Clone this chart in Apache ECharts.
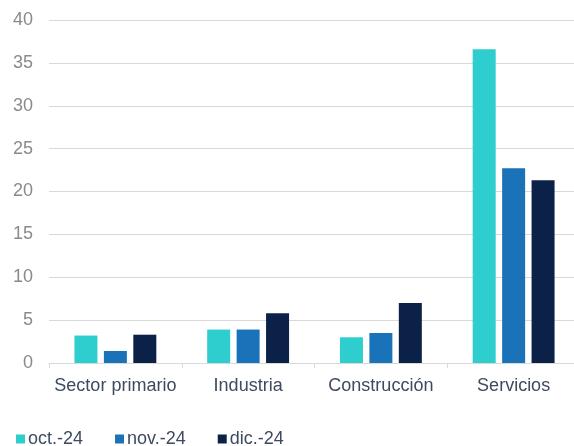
<!DOCTYPE html>
<html>
<head>
<meta charset="utf-8">
<script src="https://cdn.jsdelivr.net/npm/echarts@6/dist/echarts.min.js"></script>
<style>
  html, body { margin: 0; padding: 0; background: #fff; }
  #chart { width: 574px; height: 446px; }
</style>
</head>
<body>
<div id="chart"></div>
<script>
  // data
  const categories = ['Sector primario', 'Industria', 'Construcción', 'Servicios'];
  const seriesNames = ['oct.-24', 'nov.-24', 'dic.-24'];
  const octValues = [3.2, 3.9, 3.0, 36.6];
  const novValues = [1.4, 3.9, 3.5, 22.7];
  const dicValues = [3.3, 5.8, 7.0, 21.3];
  const colors = ['#2ecece', '#1a72b8', '#0b2147'];

  const font = 'Liberation Sans, Arial, sans-serif';

  let option = {
    animation: false,
    color: colors,
    legend: {
      data: seriesNames,
      left: 11,
      top: 425,
      icon: 'rect',
      itemWidth: 9,
      itemHeight: 9,
      itemGap: 32,
      textStyle: { fontFamily: font, fontSize: 18, color: '#3d4a60', padding: [0, 0, 0, -2] }
    },
    grid: { left: 49, top: 20, width: 531, bottom: 83, containLabel: false, outerBoundsMode: 'none' },
    xAxis: {
      type: 'category',
      data: categories,
      axisLine: { lineStyle: { color: '#d9d9d9', width: 1 } },
      axisTick: { show: true, length: 5, lineStyle: { color: '#d9d9d9' } },
      axisLabel: { fontFamily: font, fontSize: 18, color: '#3d4a60', margin: 14, interval: 0 }
    },
    yAxis: {
      type: 'value',
      min: 0,
      max: 40,
      interval: 5,
      axisLine: { show: false },
      axisTick: { show: false },
      splitLine: { lineStyle: { color: '#d9d9d9', width: 1 } },
      axisLabel: { fontFamily: font, fontSize: 18, color: '#8a8a8a', margin: 16 }
    },
    series: [
      { name: seriesNames[0], type: 'bar', data: octValues, barWidth: 23, barGap: '28%' },
      { name: seriesNames[1], type: 'bar', data: novValues, barWidth: 23, barGap: '28%' },
      { name: seriesNames[2], type: 'bar', data: dicValues, barWidth: 23, barGap: '28%' }
    ]
  };
  echarts.init(document.getElementById('chart')).setOption(option);
</script>
</body>
</html>
